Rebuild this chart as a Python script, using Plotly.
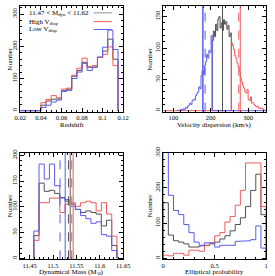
import plotly.graph_objects as go

# ---------------- data ----------------
# Panel 1: redshift histogram
z_start, z_width = 0.04, 0.005
z_black = [17, 30, 35, 37, 62, 67, 107, 125, 150, 135, 135, 165, 185, 222, 160]
z_red   = [25, 35, 47, 40, 67, 70, 110, 132, 163, 137, 140, 165, 175, 198, 140]
z_blue  = [10, 17, 27, 33, 60, 63, 100, 120, 147, 125, 135, 167, 197, 250, 190]

# Panel 2: velocity dispersion histogram (km/s)
v_start, v_width = 111, 3
v_counts = [1, 0, 1, 2, 1, 3, 2, 5, 4, 7, 9, 12, 10, 16, 18, 17, 24, 27, 30, 38,
            35, 56, 64, 58, 72, 78, 90, 84, 96, 93, 120,
            112, 127, 118, 138, 128, 146, 150, 132, 140, 128, 145, 138, 142, 130, 136, 118, 124,
            108, 104, 98, 88, 84, 76, 70, 62, 52, 46, 40, 36, 30, 28, 34, 18, 16, 22, 12, 13,
            10, 8, 6, 7, 4, 5, 3, 4, 2, 1]
v_low_cut, v_high_cut = 204, 255
v_lines_blue = [179, 185]    # solid, dashed
v_lines_black = [231.5]
v_lines_red = [279, 275]     # solid, dashed

# Panel 3: dynamical mass histogram
m_start, m_width = 11.459, 0.0111
m_blue  = [53, 183, 154, 183, 141, 117, 114, 101, 95, 83, 77, 68, 71, 46, 43, 15]
m_black = [44, 146, 130, 132, 126, 118, 111, 105, 95, 89, 92, 89, 86, 63, 74, 25]
m_red   = [35, 108, 108, 117, 117, 89, 105, 108, 101, 108, 111, 108, 92, 108, 86, 43]
m_lines_blue = [11.526, 11.515]    # solid, dashed
m_lines_black = [11.537, 11.533]
m_lines_red = [11.543, 11.540]

# Panel 4: elliptical probability histogram
p_start, p_width = 0.0, 0.05
p_blue  = [400, 179, 136, 124, 96, 73, 46, 37, 44, 44, 32, 37, 37, 37, 48, 48, 50, 53, 92, 29]
p_black = [158, 66, 50, 46, 41, 32, 32, 35, 37, 41, 46, 55, 64, 78, 96, 115, 147, 193, 239, 124]
p_red   = [9, 7, 14, 14, 9, 23, 23, 20, 37, 44, 64, 73, 103, 119, 151, 193, 271, 271, 271, 147]

BLACK = "#505050"
RED = "#f05a5a"
BLUE = "#5a5af0"
FONT = "Liberation Serif"


def step(start, width, vals, lead=None, tail=None):
    edges = [start + i * width for i in range(len(vals) + 1)]
    xs, ys = [], []
    if lead is not None:
        xs.append(lead); ys.append(0)
    xs.append(edges[0]); ys.append(0)
    for i, v in enumerate(vals):
        xs += [edges[i], edges[i + 1]]
        ys += [v, v]
    xs.append(edges[-1]); ys.append(0)
    if tail is not None:
        xs.append(tail); ys.append(0)
    return xs, ys


fig = go.Figure()


def add_hist(xs, ys, color, ax, width=1):
    fig.add_trace(go.Scatter(x=xs, y=ys, mode="lines", line=dict(color=color, width=width),
                             xaxis="x" + ax, yaxis="y" + ax, showlegend=False, hoverinfo="skip"))


# panel 1
for vals, col in [(z_black, BLACK), (z_red, RED), (z_blue, BLUE)]:
    xs, ys = step(z_start, z_width, vals, lead=0.02)
    add_hist(xs, ys, col, "")

# panel 2
n_low = int(round((v_low_cut - v_start) / v_width))
n_high = int(round((v_high_cut - v_start) / v_width))
xs, ys = step(v_start + n_low * v_width, v_width, v_counts[n_low:n_high])
add_hist(xs, ys, BLACK, "2")
xs, ys = step(v_start + n_high * v_width, v_width, v_counts[n_high:], lead=73)
add_hist(xs, ys, RED, "2")
xs, ys = step(v_start, v_width, v_counts[:n_low], tail=348)
add_hist(xs, ys, BLUE, "2")

# panel 3
for vals, col in [(m_black, BLACK), (m_red, RED), (m_blue, BLUE)]:
    xs, ys = step(m_start, m_width, vals)
    add_hist(xs, ys, col, "3")

# panel 4
for vals, col in [(p_black, BLACK), (p_red, RED), (p_blue, BLUE)]:
    xs, ys = step(p_start, p_width, vals)
    add_hist(xs, ys, col, "4")

shapes = []


def vline(x, ax, color, dash="solid", width=1):
    shapes.append(dict(type="line", xref="x" + ax, yref="y" + ax + " domain", x0=x, x1=x,
                       y0=0, y1=1, line=dict(color=color, width=width, dash=dash)))


vline(v_lines_blue[0], "2", BLUE, width=1.5)
vline(v_lines_blue[1], "2", BLUE, "dash")
vline(v_lines_black[0], "2", BLACK)
vline(v_lines_red[0], "2", RED)
vline(v_lines_red[1], "2", RED, "dash")

vline(m_lines_blue[0], "3", BLUE)
vline(m_lines_blue[1], "3", BLUE, "dash")
vline(m_lines_black[0], "3", "#909090", width=1.5)
vline(m_lines_black[1], "3", BLACK, "dash")
vline(m_lines_red[0], "3", RED)
vline(m_lines_red[1], "3", RED, "dash")

annotations = []


def text(txt, xpx, ypx, angle=0, xanchor="center", size=7):
    annotations.append(dict(text=txt, x=xpx / 275, y=1 - ypx / 276, xref="paper", yref="paper",
                            textangle=angle, showarrow=False, xanchor=xanchor, yanchor="middle",
                            font=dict(family=FONT, size=size, color="black")))


# legend (panel 1)
legend_items = [("11.47 < M<sub>dyn</sub> < 11.62", "#909090"),
                ("High V<sub>disp</sub>", RED),
                ("Low V<sub>disp</sub>", BLUE)]
for i, (txt, col) in enumerate(legend_items):
    ypx = [7, 16, 24][i]
    text(txt, 22, ypx, xanchor="left")
    yp = 1 - ypx / 276
    shapes.append(dict(type="line", xref="paper", yref="paper", x0=92 / 275, x1=111 / 275,
                       y0=yp, y1=yp, line=dict(color=col, width=1)))

# axis titles
for xpx, ycen in [(4, 54), (151, 54), (4, 204), (151, 204)]:
    text("Number", xpx, ycen, angle=-90)
text("Redshift", 69, 121.5)
text("Velocity dispersion (km/s)", 219, 121.5)
text("Dynamical Mass (M<sub>⊙</sub>)", 69, 271.5)
text("Elliptical probability", 219, 271.5)

dom_x = [[15 / 275, 123 / 275], [165 / 275, 273 / 275]]
dom_y = [[1 - 108 / 276, 1.0], [1 - 259 / 276, 1 - 150 / 276]]


def xax(domain, rng, dtick, minor, anchor, tickvals=None, ticktext=None):
    d = dict(domain=domain, range=rng, dtick=dtick, tick0=0, anchor=anchor,
             showline=True, linecolor="black", linewidth=1, mirror="ticks",
             ticks="inside", ticklen=4, tickcolor="black", showgrid=False, zeroline=False,
             minor=dict(dtick=minor, ticks="inside", ticklen=2, tickcolor="black", showgrid=False),
             tickfont=dict(family=FONT, size=6.5, color="black"))
    if tickvals is not None:
        d.update(tickmode="array", tickvals=tickvals, ticktext=ticktext)
    return d


def yax(domain, rng, dtick, minor, anchor):
    return dict(domain=domain, range=rng, dtick=dtick, tick0=0, anchor=anchor,
                showline=True, linecolor="black", linewidth=1, mirror="ticks",
                ticks="inside", ticklen=4, tickcolor="black", showgrid=False, zeroline=False,
                minor=dict(dtick=minor, ticks="inside", ticklen=2, tickcolor="black", showgrid=False),
                tickangle=-90, tickfont=dict(family=FONT, size=6.5, color="black"))


z_ticks = [0.02, 0.04, 0.06, 0.08, 0.1, 0.12]
m_ticks = [11.45, 11.5, 11.55, 11.6, 11.65]
p_ticks = [0, 0.5, 1]

fig.update_layout(
    width=275, height=276, margin=dict(l=0, r=0, t=0, b=0),
    paper_bgcolor="white", plot_bgcolor="white", showlegend=False, hovermode=False,
    xaxis=xax(dom_x[0], [0.02, 0.12], 0.02, 0.005, "y",
              z_ticks, ["0.02", "0.04", "0.06", "0.08", "0.1", "0.12"]),
    yaxis=yax(dom_y[0], [-3, 325], 100, 20, "x"),
    xaxis2=xax(dom_x[1], [73, 348], 100, 20, "y2"),
    yaxis2=yax(dom_y[0], [-1.5, 167], 50, 10, "x2"),
    xaxis3=xax(dom_x[0], [11.43, 11.65], 0.05, 0.01, "y3",
               m_ticks, ["11.45", "11.5", "11.55", "11.6", "11.65"]),
    yaxis3=yax(dom_y[1], [-2, 205], 50, 10, "x3"),
    xaxis4=xax(dom_x[1], [0, 1], 0.5, 0.1, "y4",
               p_ticks, ["0", "0.5", "1"]),
    yaxis4=yax(dom_y[1], [-3, 300], 100, 20, "x4"),
    shapes=shapes, annotations=annotations,
)

fig.write_html("out.html",
               config={"displayModeBar": False, "staticPlot": True},
               post_script="document.body.style.margin='0';document.body.style.padding='0';"
                           "document.documentElement.style.overflow='hidden';")
